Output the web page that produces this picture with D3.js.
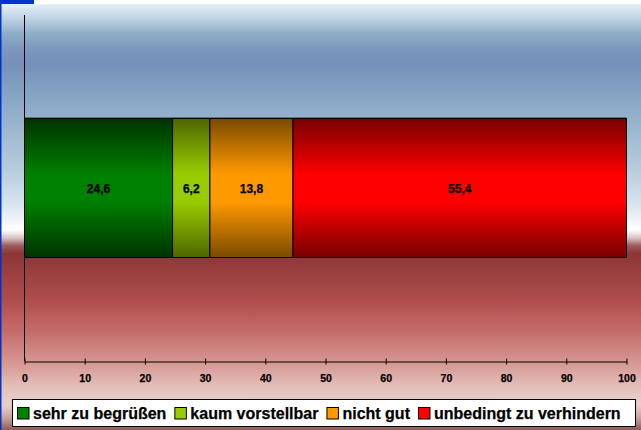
<!DOCTYPE html>
<html><head><meta charset="utf-8">
<script src="https://cdn.jsdelivr.net/npm/d3@7"></script>
<style>html,body{margin:0;padding:0;background:#fff;}svg{display:block;}
text{font-family:Arial,"Liberation Sans",sans-serif;font-weight:bold;stroke:#000;stroke-width:0.25px;}</style>
</head><body>
<svg id="c" width="641" height="430"></svg>
<script>
const categories = ["sehr zu begrüßen", "kaum vorstellbar", "nicht gut", "unbedingt zu verhindern"];
const values = [24.6, 6.2, 13.8, 55.4];
const valueLabels = ["24,6", "6,2", "13,8", "55,4"];
const tickValues = [0, 10, 20, 30, 40, 50, 60, 70, 80, 90, 100];
const midColors = ["#008000", "#99cc00", "#ff9900", "#ff0000"];
const edgeColors = ["#003300", "#4d6600", "#7a4a00", "#770000"];
const legendColors = ["#008000", "#99cc00", "#ff9900", "#ff0000"];

const svg = d3.select("#c");
const W = 641, H = 430;
const defs = svg.append("defs");

const bg = defs.append("linearGradient").attr("id", "bg").attr("x1", 0).attr("y1", 0).attr("x2", 0).attr("y2", 1);
[[0,"#e2edf6"],[4,"#dbe7f2"],[15,"#bdd2e3"],[30,"#8eadc8"],[45,"#7c98bd"],[60,"#7690b9"],[90,"#85a4c3"],[120,"#97b4cc"],[170,"#b9cedf"],[205,"#dbe6ef"],[228,"#ffffff"],[236,"#d9c4c4"],[244,"#9d5a5a"],[252,"#8b3636"],[275,"#9e4242"],[300,"#b14d4d"],[330,"#c46c6a"],[360,"#d5948f"],[390,"#e6c4bf"],[405,"#e8cfcb"],[418,"#c9a09b"],[430,"#8e5a55"]]
  .forEach(([y,c]) => bg.append("stop").attr("offset", y / H).attr("stop-color", c));

values.forEach((v, i) => {
  const g = defs.append("linearGradient").attr("id", "bar" + i).attr("x1", 0).attr("y1", 0).attr("x2", 0).attr("y2", 1);
  g.append("stop").attr("offset", 0).attr("stop-color", edgeColors[i]);
  g.append("stop").attr("offset", 0.4).attr("stop-color", midColors[i]);
  g.append("stop").attr("offset", 0.6).attr("stop-color", midColors[i]);
  g.append("stop").attr("offset", 1).attr("stop-color", edgeColors[i]);
});

svg.append("rect").attr("x", 0).attr("y", 0).attr("width", W).attr("height", H).attr("fill", "#fff");
svg.append("rect").attr("x", 0).attr("y", 4).attr("width", W).attr("height", H - 4).attr("fill", "url(#bg)");
svg.append("rect").attr("x", 0).attr("y", 0).attr("width", 34).attr("height", 4).attr("fill", "#0033cc");
svg.append("rect").attr("x", 0).attr("y", 0).attr("width", 1.5).attr("height", H).attr("fill", "#0033cc");

const x = d3.scaleLinear().domain([0, 100]).range([24.5, 626.5]);

const stacked = [];
let acc = 0;
values.forEach((v, i) => { stacked.push({i, x0: acc, x1: acc + v, label: valueLabels[i]}); acc += v; });

svg.append("line").attr("x1", x(0)).attr("x2", x(100)).attr("y1", 117.5).attr("y2", 117.5)
  .attr("stroke", "#3f4d5c").attr("stroke-width", 1).attr("opacity", 0.6);

const bandY = 118.5, bandH = 139;
svg.selectAll("rect.bar").data(stacked).join("rect").attr("class", "bar")
  .attr("x", d => x(d.x0)).attr("width", d => x(d.x1) - x(d.x0))
  .attr("y", bandY).attr("height", bandH)
  .attr("fill", d => "url(#bar" + d.i + ")")
  .attr("stroke", "#000").attr("stroke-width", 1);

svg.selectAll("text.val").data(stacked).join("text").attr("class", "val")
  .attr("x", d => (x(d.x0) + x(d.x1)) / 2).attr("y", bandY + bandH / 2 + 4.5)
  .attr("text-anchor", "middle")
  .style("font-size", "12px").attr("fill", "#000")
  .text(d => d.label);

svg.append("line").attr("x1", 24.5).attr("x2", 24.5).attr("y1", 15).attr("y2", 361).attr("stroke", "#000").attr("stroke-width", 1);
const xAxis = svg.append("g").attr("transform", "translate(0,361.5)")
  .call(d3.axisBottom(x).tickValues(tickValues).tickSize(3).tickSizeOuter(0).tickFormat(d3.format("d")));
xAxis.attr("font-family", null).attr("font-size", null);
xAxis.select(".domain").attr("stroke", "#000");
xAxis.selectAll(".tick line").attr("stroke", "#000").attr("y1", -3).attr("y2", 3);
xAxis.selectAll(".tick text").attr("y", 17).attr("dy", "0.32em")
  .style("font-size", "10.5px").attr("fill", "#000");

const leg = svg.append("g");
leg.append("rect").attr("x", 12.5).attr("y", 399.5).attr("width", 623).attr("height", 27)
  .attr("fill", "#fff").attr("stroke", "#000").attr("stroke-width", 1);
let lx = 17;
categories.forEach((c, i) => {
  leg.append("rect").attr("x", lx + 0.5).attr("y", 407.5).attr("width", 11.5).attr("height", 11.5)
    .attr("fill", legendColors[i]).attr("stroke", "#000").attr("stroke-width", 1);
  const t = leg.append("text").attr("x", lx + 16).attr("y", 419)
    .style("font-size", "16px").attr("fill", "#000")
    .text(c);
  lx = lx + 16 + t.node().getComputedTextLength() + 8;
});
</script>
</body></html>
